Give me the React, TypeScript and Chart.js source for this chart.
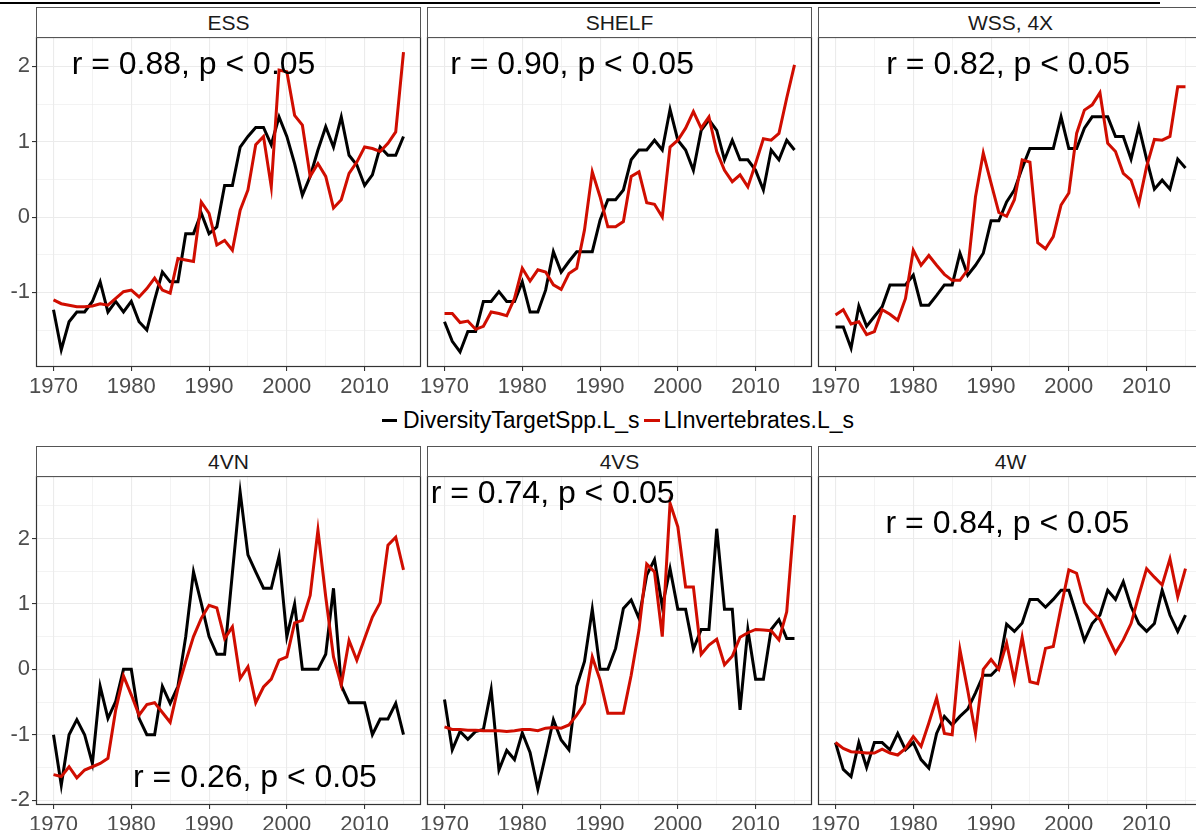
import React, { useEffect, useRef } from 'react';
import { Chart, registerables } from 'chart.js';

Chart.register(...registerables);

// ---------- data ----------
const years = [
  1970, 1971, 1972, 1973, 1974, 1975, 1976, 1977, 1978, 1979,
  1980, 1981, 1982, 1983, 1984, 1985, 1986, 1987, 1988, 1989,
  1990, 1991, 1992, 1993, 1994, 1995, 1996, 1997, 1998, 1999,
  2000, 2001, 2002, 2003, 2004, 2005, 2006, 2007, 2008, 2009,
  2010, 2011, 2012, 2013, 2014, 2015,
];

const xTicks = [1970, 1975, 1980, 1985, 1990, 1995, 2000, 2005, 2010, 2015];
const xTickLabels = ['1970', '', '1980', '', '1990', '', '2000', '', '2010', ''];
const yTicksTop = [-1.5, -1, -0.5, 0, 0.5, 1, 1.5, 2];
const yTicksBottom = [-2, -1.5, -1, -0.5, 0, 0.5, 1, 1.5, 2, 2.5];
const xRange = [1967.75, 2017.25];
const yRangeTop = [-1.99, 2.39];
const yRangeBottom = [-2.075, 2.957];

const seriesNames = ['DiversityTargetSpp.L_s', 'LInvertebrates.L_s'];
const panelNames = ['ESS', 'SHELF', 'WSS, 4X', '4VN', '4VS', '4W'];

const essDiversity = [
  -1.23, -1.76, -1.39, -1.26, -1.26, -1.12, -0.86, -1.26, -1.12, -1.26,
  -1.12, -1.39, -1.5, -1.1, -0.73, -0.86, -0.86, -0.22, -0.22, 0.05,
  -0.22, -0.13, 0.42, 0.42, 0.93, 1.07, 1.19, 1.19, 0.96, 1.33,
  1.07, 0.71, 0.29, 0.54, 0.89, 1.2, 0.93, 1.33, 0.82, 0.69,
  0.42, 0.56, 0.93, 0.82, 0.82, 1.07,
];
const essInvert = [
  -1.1, -1.15, -1.17, -1.19, -1.19, -1.18, -1.15, -1.17, -1.08, -0.99,
  -0.97, -1.06, -0.95, -0.81, -0.97, -1.01, -0.55, -0.57, -0.59, 0.2,
  0.05, -0.37, -0.31, -0.44, 0.09, 0.36, 0.96, 1.07, 0.4, 1.95,
  1.93, 1.35, 1.22, 0.54, 0.71, 0.54, 0.12, 0.23, 0.58, 0.73,
  0.93, 0.91, 0.87, 0.98, 1.13, 2.19,
];
const shelfDiversity = [
  -1.39, -1.65, -1.79, -1.52, -1.52, -1.12, -1.12, -0.99, -1.12, -1.12,
  -0.86, -1.26, -1.26, -0.97, -0.46, -0.73, -0.59, -0.46, -0.46, -0.46,
  -0.04, 0.23, 0.23, 0.36, 0.76, 0.89, 0.89, 1.02, 0.89, 1.43,
  1.02, 0.89, 0.62, 1.15, 1.29, 1.15, 0.76, 1.02, 0.76, 0.76,
  0.62, 0.36, 0.89, 0.76, 1.02, 0.89,
];
const shelfInvert = [
  -1.28, -1.28, -1.4, -1.38, -1.49, -1.45, -1.26, -1.28, -1.31, -1.08,
  -0.68, -0.85, -0.7, -0.73, -0.9, -0.96, -0.75, -0.68, -0.17, 0.6,
  0.27, -0.13, -0.13, -0.06, 0.54, 0.6, 0.19, 0.17, 0.0, 0.93,
  1.02, 1.18, 1.4, 1.18, 1.33, 0.87, 0.62, 0.47, 0.56, 0.4,
  0.71, 1.04, 1.02, 1.11, 1.58, 2.02,
];
const wssDiversity = [
  -1.46, -1.46, -1.74, -1.18, -1.45, -1.32, -1.19, -0.9, -0.9, -0.9,
  -0.77, -1.17, -1.17, -1.04, -0.9, -0.9, -0.48, -0.77, -0.64, -0.48,
  -0.05, -0.05, 0.2, 0.36, 0.65, 0.91, 0.91, 0.91, 0.91, 1.33,
  0.91, 0.91, 1.18, 1.33, 1.33, 1.33, 1.07, 1.07, 0.77, 1.2,
  0.77, 0.37, 0.49, 0.37, 0.77, 0.65,
];
const wssInvert = [
  -1.3, -1.23, -1.42, -1.39, -1.56, -1.52, -1.23, -1.29, -1.37, -1.08,
  -0.44, -0.64, -0.51, -0.64, -0.76, -0.84, -0.84, -0.7, 0.27, 0.85,
  0.45, 0.06, 0.01, 0.23, 0.76, 0.73, -0.34, -0.42, -0.26, 0.16,
  0.32, 1.11, 1.42, 1.49, 1.65, 0.98, 0.87, 0.58, 0.49, 0.18,
  0.67, 1.03, 1.02, 1.07, 1.73, 1.73,
];
const vnDiversity = [
  -1.0, -1.77, -1.0, -0.77, -1.0, -1.44, -0.26, -0.75, -0.49, 0.0,
  0.0, -0.75, -1.0, -1.0, -0.26, -0.52, -0.26, 0.5, 1.49, 1.01,
  0.5, 0.23, 0.23, 1.47, 2.71, 1.75, 1.49, 1.24, 1.24, 1.73,
  0.5, 1.0, 0.0, 0.0, 0.0, 0.23, 1.24, -0.25, -0.51, -0.51,
  -0.51, -1.0, -0.76, -0.76, -0.52, -1.0,
];
const vnInvert = [
  -1.61, -1.64, -1.49, -1.66, -1.54, -1.49, -1.44, -1.36, -0.62, -0.1,
  -0.39, -0.7, -0.54, -0.51, -0.66, -0.81, -0.29, 0.12, 0.5, 0.78,
  0.98, 0.94, 0.47, 0.65, -0.14, 0.04, -0.51, -0.27, -0.15, 0.14,
  0.19, 0.71, 0.75, 1.13, 2.13, 1.11, 0.19, -0.24, 0.44, 0.14,
  0.47, 0.8, 1.02, 1.9, 2.02, 1.52,
];
const vsDiversity = [
  -0.46, -1.23, -0.95, -1.07, -0.95, -0.92, -0.31, -1.54, -1.24, -1.38,
  -0.97, -1.27, -1.83, -1.31, -0.77, -1.08, -1.23, -0.26, 0.12, 0.92,
  0.0, 0.0, 0.32, 0.93, 1.06, 0.78, 1.44, 1.68, 0.96, 1.54,
  0.92, 0.92, 0.31, 0.61, 0.61, 2.15, 0.92, 0.92, -0.62, 0.61,
  -0.15, -0.15, 0.61, 0.76, 0.47, 0.47,
];
const vsInvert = [
  -0.88, -0.92, -0.92, -0.93, -0.93, -0.94, -0.94, -0.94, -0.95, -0.94,
  -0.92, -0.92, -0.94, -0.9, -0.89, -0.9, -0.85, -0.7, -0.52, 0.19,
  -0.16, -0.67, -0.67, -0.67, -0.09, 0.6, 1.61, 1.49, 0.5, 2.54,
  2.18, 1.26, 1.26, 0.23, 0.37, 0.46, 0.07, 0.2, 0.49, 0.56,
  0.61, 0.6, 0.59, 0.45, 0.88, 2.36,
];
const wDiversity = [
  -1.12, -1.53, -1.64, -1.12, -1.5, -1.12, -1.12, -1.23, -0.98, -1.23,
  -1.12, -1.38, -1.51, -0.98, -0.72, -0.85, -0.72, -0.61, -0.36, -0.09,
  -0.09, 0.03, 0.69, 0.58, 0.71, 1.07, 1.07, 0.95, 1.07, 1.21,
  1.21, 0.83, 0.44, 0.7, 0.83, 1.21, 1.07, 1.34, 0.96, 0.7,
  0.58, 0.7, 1.21, 0.83, 0.58, 0.83,
];
const wInvert = [
  -1.12, -1.21, -1.26, -1.27, -1.28, -1.28, -1.22, -1.28, -1.31, -1.21,
  -1.03, -1.18, -0.82, -0.44, -0.98, -1.0, 0.3, -0.32, -0.98, 0.0,
  0.15, 0.0, 0.4, -0.17, 0.49, -0.19, -0.22, 0.32, 0.35, 0.95,
  1.52, 1.47, 1.02, 0.88, 0.76, 0.5, 0.25, 0.45, 0.7, 1.13,
  1.54, 1.41, 1.29, 1.69, 1.11, 1.54,
];

const corrLabels = [
  'r = 0.88, p < 0.05',
  'r = 0.90, p < 0.05',
  'r = 0.82, p < 0.05',
  'r = 0.26, p < 0.05',
  'r = 0.74, p < 0.05',
  'r = 0.84, p < 0.05',
];
const corrLabelX = [1988.0, 1986.4, 1992.2, 1995.9, 1983.9, 1992.1];
const corrLabelY = [2.01, 2.01, 2.01, -1.67, 2.68, 2.22];

const diversitySeries = [essDiversity, shelfDiversity, wssDiversity, vnDiversity, vsDiversity, wDiversity];
const invertSeries = [essInvert, shelfInvert, wssInvert, vnInvert, vsInvert, wInvert];

// ---------- styling / layout ----------
const FONT = '"Liberation Sans", Arial, Helvetica, sans-serif';
const BLACK = '#000000';
const RED = '#d00d00';
const GRID = '#ebebeb';
const PLOT_LEFT = [36, 427, 818];
const PLOT_WIDTH = 385;
const PLOT_TOP = [37, 476];
const PLOT_HEIGHT = [330, 329];
const STRIP_TOP = [7, 446];
const Y_AXIS_W = 40;
const X_AXIS_H = 34;
const PAD = 4;

type PanelProps = { idx: number };

function Panel({ idx }: PanelProps) {
  const ref = useRef<HTMLCanvasElement | null>(null);
  const row = idx < 3 ? 0 : 1;
  const col = idx % 3;
  const showY = col === 0;
  const yTicks = row === 0 ? yTicksTop : yTicksBottom;
  const yRange = row === 0 ? yRangeTop : yRangeBottom;

  const canvasLeft = PLOT_LEFT[col] - Y_AXIS_W;
  const canvasTop = PLOT_TOP[row] - PAD;
  const canvasW = Y_AXIS_W + PLOT_WIDTH + PAD;
  const canvasH = PAD + PLOT_HEIGHT[row] + X_AXIS_H;

  useEffect(() => {
    if (!ref.current) return;
    const panelPlugin = {
      id: 'panelDecor',
      afterDatasetsDraw(chart: any) {
        const { ctx, chartArea, scales } = chart;
        ctx.save();
        ctx.font = `32px ${FONT}`;
        ctx.fillStyle = '#000';
        ctx.textAlign = 'center';
        ctx.textBaseline = 'middle';
        ctx.fillText(
          corrLabels[idx],
          scales.x.getPixelForValue(corrLabelX[idx]),
          scales.y.getPixelForValue(corrLabelY[idx])
        );
        ctx.strokeStyle = '#333333';
        ctx.lineWidth = 1.2;
        ctx.strokeRect(
          chartArea.left + 0.5,
          chartArea.top + 0.5,
          chartArea.right - chartArea.left - 1,
          chartArea.bottom - chartArea.top - 1
        );
        ctx.restore();
      },
    };

    const chart = new Chart(ref.current, {
      type: 'line',
      data: {
        datasets: [
          {
            label: seriesNames[1],
            data: years.map((yr, i) => ({ x: yr, y: invertSeries[idx][i] })),
            borderColor: RED,
            backgroundColor: RED,
            borderWidth: 3,
            pointRadius: 0,
            tension: 0,
            order: 0,
          },
          {
            label: seriesNames[0],
            data: years.map((yr, i) => ({ x: yr, y: diversitySeries[idx][i] })),
            borderColor: BLACK,
            backgroundColor: BLACK,
            borderWidth: 3,
            pointRadius: 0,
            tension: 0,
            order: 1,
          },
        ],
      },
      options: {
        animation: false,
        responsive: false,
        maintainAspectRatio: false,
        events: [],
        layout: { padding: { top: PAD, right: PAD, left: 0, bottom: 0 } },
        plugins: { legend: { display: false }, tooltip: { enabled: false } },
        scales: {
          x: {
            type: 'linear',
            min: xRange[0],
            max: xRange[1],
            afterBuildTicks: (s: any) => {
              s.ticks = xTicks.map((v) => ({ value: v }));
            },
            afterFit: (s: any) => {
              s.height = X_AXIS_H;
              s.paddingLeft = 0;
              s.paddingRight = 0;
            },
            border: { display: false },
            grid: {
              color: GRID,
              lineWidth: (c: any) => (c.tick && c.tick.value % 10 === 0 ? 1.1 : 0.6),
              tickColor: (c: any) => (c.tick && c.tick.value % 10 === 0 ? '#333333' : 'rgba(0,0,0,0)'),
              tickLength: 4,
              drawTicks: true,
            },
            ticks: {
              autoSkip: false,
              maxRotation: 0,
              padding: 3,
              color: '#4d4d4d',
              font: { family: FONT, size: 22 },
              callback: (v: any) => {
                const k = xTicks.indexOf(Number(v));
                return k >= 0 ? xTickLabels[k] : '';
              },
            },
          },
          y: {
            type: 'linear',
            min: yRange[0],
            max: yRange[1],
            afterBuildTicks: (s: any) => {
              s.ticks = yTicks.map((v) => ({ value: v }));
            },
            afterFit: (s: any) => {
              s.width = Y_AXIS_W;
              s.paddingTop = 0;
              s.paddingBottom = 0;
            },
            border: { display: false },
            grid: {
              color: GRID,
              lineWidth: (c: any) => (c.tick && Number.isInteger(c.tick.value) ? 1.1 : 0.6),
              tickColor: (c: any) =>
                showY && c.tick && Number.isInteger(c.tick.value) ? '#333333' : 'rgba(0,0,0,0)',
              tickLength: 4,
              drawTicks: true,
            },
            ticks: {
              display: showY,
              autoSkip: false,
              padding: 2,
              color: '#4d4d4d',
              font: { family: FONT, size: 22 },
              callback: (v: any) => (Number.isInteger(Number(v)) ? String(v) : ''),
            },
          },
        },
      },
      plugins: [panelPlugin],
    } as any);
    return () => chart.destroy();
  }, [idx]);

  return (
    <>
      <canvas
        ref={ref}
        width={canvasW}
        height={canvasH}
        style={{
          position: 'absolute',
          left: canvasLeft,
          top: canvasTop,
          width: canvasW,
          height: canvasH,
          display: 'block',
        }}
      />
      <div
        style={{
          position: 'absolute',
          left: PLOT_LEFT[col],
          top: STRIP_TOP[row],
          width: PLOT_WIDTH,
          height: PLOT_TOP[row] - STRIP_TOP[row] + 1,
          boxSizing: 'border-box',
          border: '1px solid #555555',
          background: '#ffffff',
          color: '#1a1a1a',
          fontFamily: FONT,
          fontSize: 21,
          lineHeight: `${PLOT_TOP[row] - STRIP_TOP[row] - 1}px`,
          textAlign: 'center',
        }}
      >
        {panelNames[idx]}
      </div>
    </>
  );
}

export default function App() {
  useEffect(() => {
    document.body.style.margin = '0';
  }, []);
  return (
    <div
      style={{
        position: 'fixed',
        left: 0,
        top: 0,
        width: 1196,
        height: 830,
        overflow: 'hidden',
        background: '#ffffff',
      }}
    >
      <div style={{ position: 'absolute', left: 0, top: 2, width: 1160, height: 2, background: '#000' }} />
      {panelNames.map((_, i) => (
        <Panel key={i} idx={i} />
      ))}
      <div
        style={{
          position: 'absolute',
          left: 382,
          top: 406,
          height: 28,
          display: 'flex',
          alignItems: 'center',
          fontFamily: FONT,
          fontSize: 23,
          color: '#000',
          whiteSpace: 'nowrap',
        }}
      >
        <span style={{ display: 'inline-block', width: 15, height: 3, background: BLACK, marginRight: 6 }} />
        <span>{seriesNames[0]}</span>
        <span style={{ display: 'inline-block', width: 16, height: 3, background: RED, marginLeft: 4, marginRight: 4 }} />
        <span>{seriesNames[1]}</span>
      </div>
    </div>
  );
}
